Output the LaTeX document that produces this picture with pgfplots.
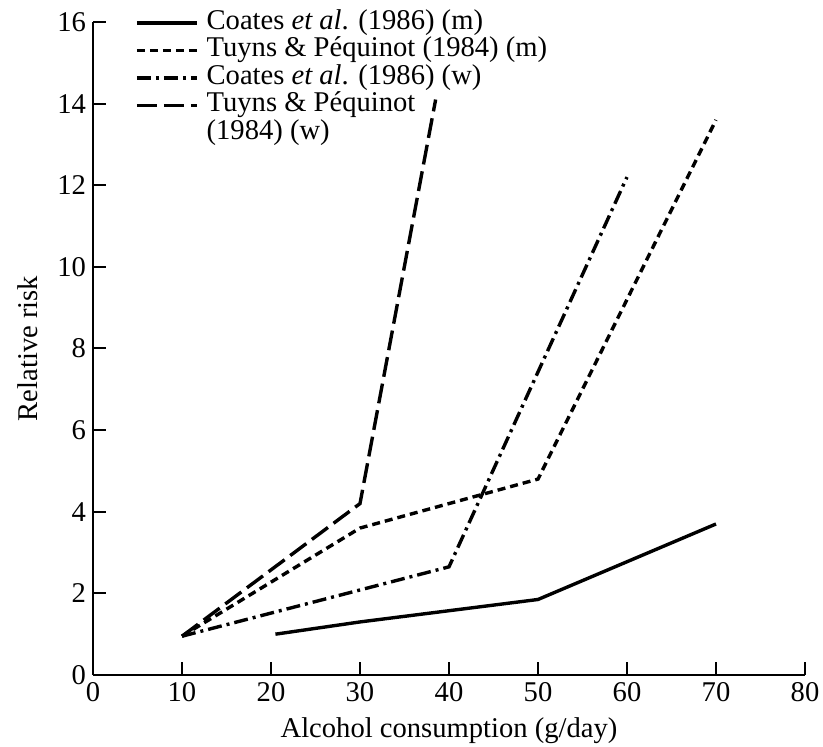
\documentclass[border=0pt]{standalone}
\usepackage{fontspec}
\setmainfont{Liberation Serif}
\usepackage{pgfplots}
\pgfplotsset{compat=1.18}
\begin{document}
\begin{tikzpicture}[font=\fontsize{14.3}{16}\selectfont]
\begin{axis}[
  name=ax,
  scale only axis,
  width=356pt, height=326.5pt,
  xmin=0, xmax=80, ymin=0, ymax=16,
  axis x line=bottom, axis y line=left,
  axis line style={-, line width=1pt},
  tick align=inside,
  major tick length=6.5pt,
  tick style={line width=1pt, black},
  xtick={0,10,...,80}, ytick={0,2,...,16},
  /pgf/number format/assume math mode=true,
  xlabel={Alcohol consumption (g/day)},
  ylabel={Relative risk},
  xlabel style={at={(axis description cs:0.5,-0.086)}, anchor=center},
  ylabel style={at={(axis description cs:-0.092,0.5)}, anchor=center, rotate=0},
  legend style={draw=none, fill=none, inner sep=0pt, row sep=1pt, column sep=4pt,
    at={(axis cs:4.7,16.3)}, anchor=north west,
    nodes={inner sep=0pt, text height=9.5pt, text depth=3.25pt}},
  legend cell align=left,
  legend image code/.code={\draw[#1] (0pt,0pt) -- (30pt,0pt);},
]
\addplot[black, line width=1.7pt] coordinates {(20.5,1.0) (30,1.3) (50,1.85) (70,3.7)};
\addlegendentry{Coates \textit{et al}. (1986) (m)}
\addplot[black, line width=1.7pt, dash pattern=on 4pt off 2.5pt] coordinates {(10,0.95) (30,3.6) (50,4.8) (70,13.6)};
\addlegendentry{Tuyns \& Péquinot (1984) (m)}
\addplot[black, line width=1.7pt, dash pattern=on 7pt off 2.5pt on 1.5pt off 2.5pt] coordinates {(10,0.95) (40,2.65) (60,12.2)};
\addlegendentry{Coates \textit{et al}. (1986) (w)}
\addplot[black, line width=1.7pt, dash pattern=on 10pt off 3.5pt] coordinates {(10,0.95) (30,4.2) (38.5,14.1)};
\addlegendentry{Tuyns \& Péquinot}
\addlegendimage{empty legend}
\addlegendentry{(1984) (w)}
\end{axis}
\pgfresetboundingbox
\path[use as bounding box] ([xshift=-46.5pt,yshift=-36pt]ax.south west) rectangle ([xshift=9pt,yshift=11pt]ax.north east);
\end{tikzpicture}
\end{document}
